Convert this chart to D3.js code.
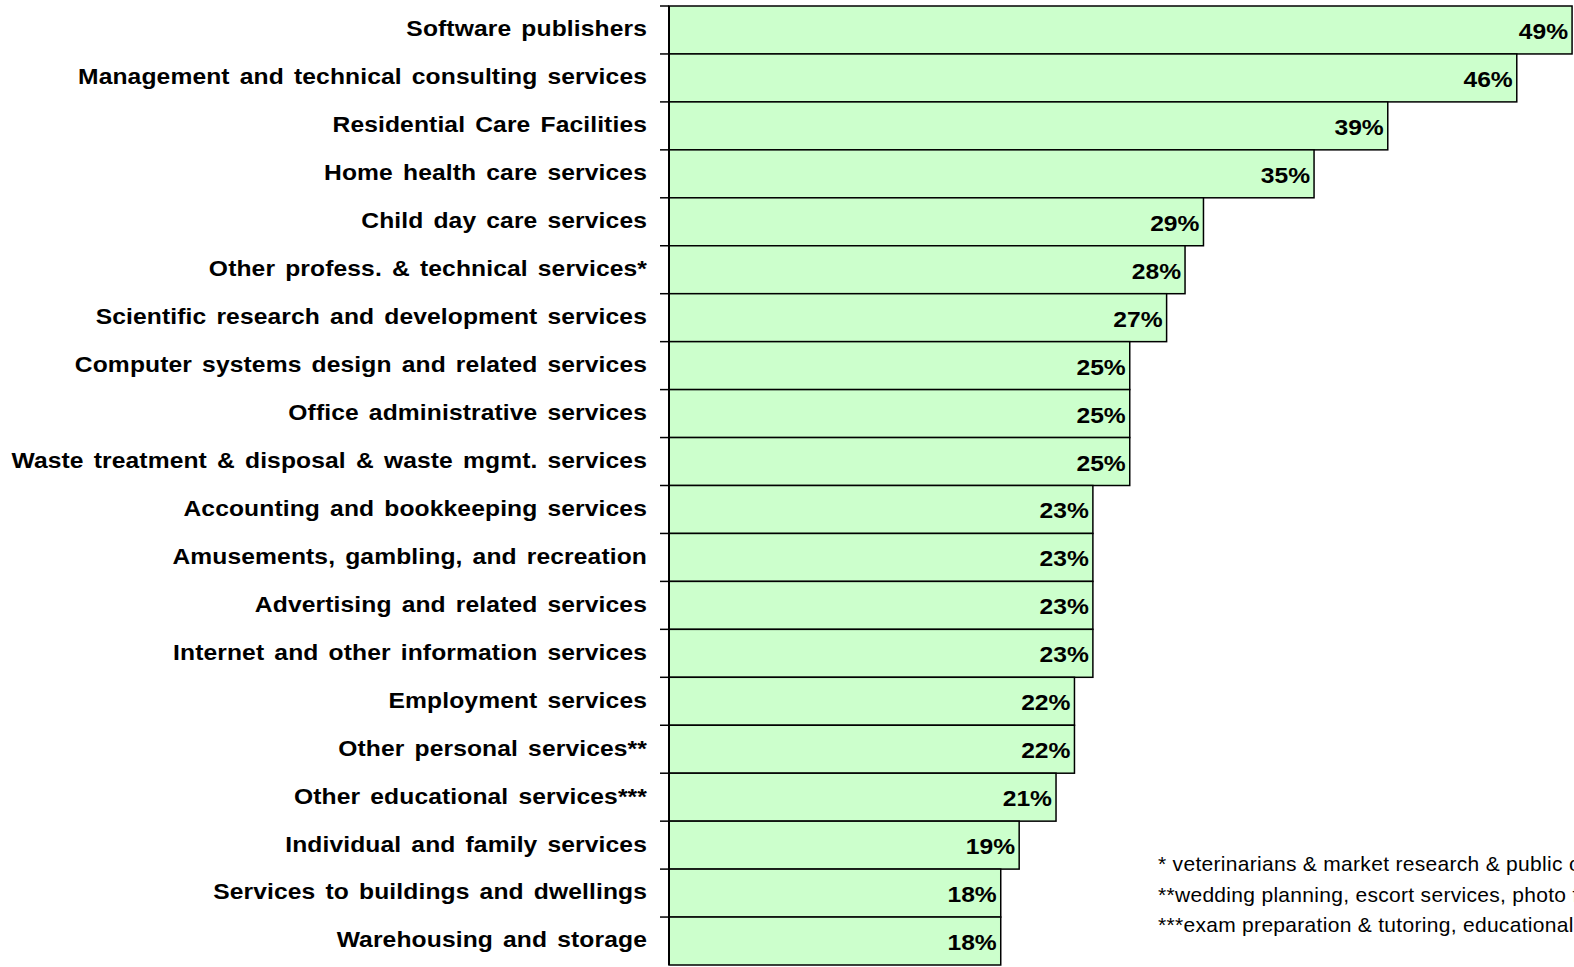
<!DOCTYPE html>
<html>
<head>
<meta charset="utf-8">
<script src="https://cdn.jsdelivr.net/npm/d3@7"></script>
<style>
  body { margin: 0; background: #fff; overflow: hidden; }
  text { font-family: "Liberation Sans", Arial, sans-serif; }
</style>
</head>
<body>
<div id="chart"></div>
<script>
// data
var industries = [
  "Software publishers",
  "Management and technical consulting services",
  "Residential Care Facilities",
  "Home health care services",
  "Child day care services",
  "Other profess. & technical services*",
  "Scientific research and development services",
  "Computer systems design and related services",
  "Office administrative services",
  "Waste treatment & disposal & waste mgmt. services",
  "Accounting and bookkeeping services",
  "Amusements, gambling, and recreation",
  "Advertising and related services",
  "Internet and other information services",
  "Employment services",
  "Other personal services**",
  "Other educational services***",
  "Individual and family services",
  "Services to buildings and dwellings",
  "Warehousing and storage"
];
var shares = [49, 46, 39, 35, 29, 28, 27, 25, 25, 25, 23, 23, 23, 23, 22, 22, 21, 19, 18, 18];
var footnotes = [
  "* veterinarians & market research & public opinion polling",
  "**wedding planning, escort services, photo finishing",
  "***exam preparation & tutoring, educational support"
];

var width = 1574, height = 967;
var margin = {left: 669, top: 6};
var bandH = 47.95;
var stretch = 1.12; // the original's lettering is a bit wider than Arial

var svg = d3.select("#chart").append("svg")
  .attr("width", width).attr("height", height);

var y = d3.scaleBand()
  .domain(industries)
  .range([margin.top, margin.top + bandH * industries.length])
  .padding(0);

var x = d3.scaleLinear().domain([0, 49]).range([margin.left, margin.left + 49 * 18.43]);

// bars
svg.selectAll("rect.bar")
  .data(industries)
  .enter().append("rect")
  .attr("class", "bar")
  .attr("x", x(0))
  .attr("y", function(d){ return y(d); })
  .attr("width", function(d, i){ return x(shares[i]) - x(0); })
  .attr("height", y.bandwidth())
  .attr("fill", "#ccffcc")
  .attr("stroke", "#000")
  .attr("stroke-width", 1.5);

// value labels
svg.selectAll("text.val")
  .data(industries)
  .enter().append("text")
  .attr("class", "val")
  .attr("transform", function(d, i){
    return "translate(" + (x(shares[i]) - 4) + "," + (y(d) + y.bandwidth() / 2) + ") scale(" + stretch + ",1)";
  })
  .attr("dy", "0.41em")
  .attr("text-anchor", "end")
  .style("font-size", "22px")
  .style("font-weight", "bold")
  .text(function(d, i){ return shares[i] + "%"; });

// category axis: line plus ticks at band edges
var yAxis = svg.append("g").attr("class", "y axis");
yAxis.append("line")
  .attr("x1", x(0)).attr("x2", x(0))
  .attr("y1", y.range()[0]).attr("y2", y.range()[1])
  .attr("stroke", "#000").attr("stroke-width", 2);

var edges = industries.map(function(d){ return y(d); });
yAxis.selectAll("line.tick")
  .data(edges)
  .enter().append("line")
  .attr("class", "tick")
  .attr("x1", x(0) - 9).attr("x2", x(0))
  .attr("y1", function(d){ return d; }).attr("y2", function(d){ return d; })
  .attr("stroke", "#000").attr("stroke-width", 1.5);

yAxis.selectAll("text")
  .data(industries)
  .enter().append("text")
  .attr("transform", function(d){
    return "translate(" + (x(0) - 22) + "," + (y(d) + y.bandwidth() / 2 + 2) + ") scale(" + stretch + ",1)";
  })
  .attr("dy", "0.2em")
  .attr("text-anchor", "end")
  .style("font-size", "22px")
  .style("font-weight", "bold")
  .style("letter-spacing", "0.1px")
  .style("word-spacing", "2.8px")
  .text(function(d){ return d; });

// footnotes (run off the right edge, as in the original)
svg.selectAll("text.note")
  .data(footnotes)
  .enter().append("text")
  .attr("class", "note")
  .attr("x", 1158)
  .attr("y", function(d, i){ return 871 + i * 30.6; })
  .style("font-size", "21px")
  .style("letter-spacing", "0.3px")
  .text(function(d){ return d; });
</script>
</body>
</html>
